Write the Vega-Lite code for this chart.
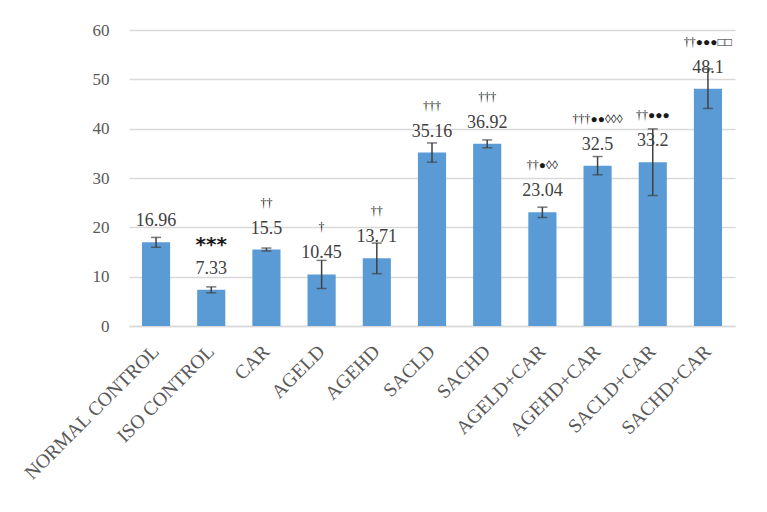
{
  "$schema": "https://vega.github.io/schema/vega-lite/v6.json",
  "autosize": {"type": "none"},
  "width": 606,
  "height": 296,
  "padding": {"left": 129, "top": 30, "right": 32, "bottom": 186},
  "background": "white",
  "config": {"view": {"stroke": null}},
  "data": {
    "values": [
      {"group": "NORMAL CONTROL", "value": 16.96, "err": 1.0, "sig": ""},
      {"group": "ISO CONTROL", "value": 7.33, "err": 0.6, "sig": "***"},
      {"group": "CAR", "value": 15.5, "err": 0.3, "sig": "††"},
      {"group": "AGELD", "value": 10.45, "err": 2.85, "sig": "†"},
      {"group": "AGEHD", "value": 13.71, "err": 3.1, "sig": "††"},
      {"group": "SACLD", "value": 35.16, "err": 1.95, "sig": "†††"},
      {"group": "SACHD", "value": 36.92, "err": 0.8, "sig": "†††"},
      {"group": "AGELD+CAR", "value": 23.04, "err": 1.05, "sig": "††●◊◊"},
      {"group": "AGEHD+CAR", "value": 32.5, "err": 1.85, "sig": "†††●●◊◊◊"},
      {"group": "SACLD+CAR", "value": 33.2, "err": 6.75, "sig": "††●●●"},
      {"group": "SACHD+CAR", "value": 48.1, "err": 4.0, "sig": "††●●●□□"}
    ]
  },
  "transform": [
    {"calculate": "datum.value - datum.err", "as": "lo"},
    {"calculate": "datum.value + datum.err", "as": "hi"}
  ],
  "encoding": {
    "x": {
      "field": "group",
      "type": "nominal",
      "sort": null,
      "scale": {"paddingInner": 0.49, "paddingOuter": 0.235},
      "axis": {
        "title": null,
        "labelAngle": -45,
        "labelAlign": "right",
        "labelBaseline": "middle",
        "labelPadding": 22,
        "labelLimit": 400,
        "labelFont": "Liberation Serif",
        "labelFontSize": 19.5,
        "labelColor": "#595959",
        "ticks": false,
        "domainColor": "#d9d9d9",
        "domainWidth": 1.5,
        "grid": false
      }
    }
  },
  "layer": [
    {
      "mark": {"type": "bar", "color": "#5b9bd5"},
      "encoding": {
        "y": {
          "field": "value",
          "type": "quantitative",
          "scale": {"domain": [0, 60], "nice": false},
          "axis": {
            "title": null,
            "values": [0, 10, 20, 30, 40, 50, 60],
            "labelFont": "Liberation Serif",
            "labelFontSize": 17,
            "labelColor": "#595959",
            "labelPadding": 20,
            "ticks": false,
            "domain": false,
            "gridColor": "#d9d9d9",
            "gridWidth": 1.5
          }
        }
      }
    },
    {
      "mark": {"type": "rule", "color": "#404040", "strokeWidth": 1.5},
      "encoding": {
        "y": {"field": "lo", "type": "quantitative"},
        "y2": {"field": "hi"}
      }
    },
    {
      "mark": {"type": "tick", "color": "#404040", "thickness": 1.5, "size": 10},
      "encoding": {"y": {"field": "lo", "type": "quantitative"}}
    },
    {
      "mark": {"type": "tick", "color": "#404040", "thickness": 1.5, "size": 10},
      "encoding": {"y": {"field": "hi", "type": "quantitative"}}
    },
    {
      "mark": {
        "type": "text",
        "font": "Liberation Serif",
        "fontSize": 18,
        "color": "#404040",
        "baseline": "middle",
        "dy": -21
      },
      "encoding": {
        "y": {"field": "value", "type": "quantitative"},
        "text": {"field": "value", "type": "nominal"}
      }
    },
    {
      "transform": [{"filter": "datum.sig !== '***'"}],
      "mark": {
        "type": "text",
        "font": "Liberation Serif",
        "fontSize": 12,
        "color": "#1a1a1a",
        "baseline": "middle",
        "dy": -47
      },
      "encoding": {
        "y": {"field": "value", "type": "quantitative"},
        "text": {"field": "sig", "type": "nominal"}
      }
    },
    {
      "transform": [{"filter": "datum.sig === '***'"}],
      "mark": {
        "type": "text",
        "font": "DejaVu Sans",
        "fontSize": 20,
        "fontWeight": "bold",
        "color": "#1a1a1a",
        "baseline": "middle",
        "dy": -45
      },
      "encoding": {
        "y": {"field": "value", "type": "quantitative"},
        "text": {"field": "sig", "type": "nominal"}
      }
    }
  ]
}
